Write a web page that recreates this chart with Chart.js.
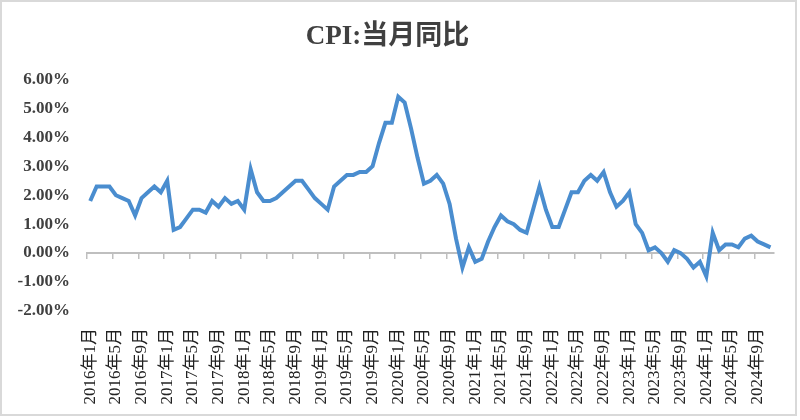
<!DOCTYPE html>
<html>
<head>
    <title>CPI:当月同比</title>
    <script src="https://cdn.jsdelivr.net/npm/chart.js"></script>
    <style>
        html, body { margin: 0; padding: 0; background: #fff; }
        #wrap { position: relative; width: 800px; height: 420px; }
        #frame { position: absolute; left: 0; top: 0; width: 797px; height: 416px;
                 box-sizing: border-box; border: 2px solid #d9d9d9; pointer-events: none; }
    </style>
</head>
<body>
    <div id="wrap">
        <canvas id="cpiChart" width="800" height="420"></canvas>
        <div id="frame"></div>
    </div>

    <script>
        // CPI year-on-year, %, monthly from 2016-01 to 2024-11
        const years = [2016, 2017, 2018, 2019, 2020, 2021, 2022, 2023, 2024];
        const cpi2016 = [1.8, 2.3, 2.3, 2.3, 2.0, 1.9, 1.8, 1.3, 1.9, 2.1, 2.3, 2.1];
        const cpi2017 = [2.5, 0.8, 0.9, 1.2, 1.5, 1.5, 1.4, 1.8, 1.6, 1.9, 1.7, 1.8];
        const cpi2018 = [1.5, 2.9, 2.1, 1.8, 1.8, 1.9, 2.1, 2.3, 2.5, 2.5, 2.2, 1.9];
        const cpi2019 = [1.7, 1.5, 2.3, 2.5, 2.7, 2.7, 2.8, 2.8, 3.0, 3.8, 4.5, 4.5];
        const cpi2020 = [5.4, 5.2, 4.3, 3.3, 2.4, 2.5, 2.7, 2.4, 1.7, 0.5, -0.5, 0.2];
        const cpi2021 = [-0.3, -0.2, 0.4, 0.9, 1.3, 1.1, 1.0, 0.8, 0.7, 1.5, 2.3, 1.5];
        const cpi2022 = [0.9, 0.9, 1.5, 2.1, 2.1, 2.5, 2.7, 2.5, 2.8, 2.1, 1.6, 1.8];
        const cpi2023 = [2.1, 1.0, 0.7, 0.1, 0.2, 0.0, -0.3, 0.1, 0.0, -0.2, -0.5, -0.3];
        const cpi2024 = [-0.8, 0.7, 0.1, 0.3, 0.3, 0.2, 0.5, 0.6, 0.4, 0.3, 0.2];
        const yTicks = [-2, -1, 0, 1, 2, 3, 4, 5, 6];

        const yearly = [cpi2016, cpi2017, cpi2018, cpi2019, cpi2020, cpi2021, cpi2022, cpi2023, cpi2024];
        const labels = [];
        const values = [];
        yearly.forEach((arr, yi) => {
            arr.forEach((v, mi) => {
                labels.push(`${years[yi]}年${mi + 1}月`);
                values.push(v);
            });
        });

        const serif = '"Liberation Serif", "Noto Sans CJK SC", serif';
        const axisGray = '#bfbfbf';

        const ctx = document.getElementById('cpiChart').getContext('2d');
        const cpiChart = new Chart(ctx, {
            type: 'line',
            data: {
                labels: labels,
                datasets: [{
                    label: 'CPI:当月同比',
                    data: values,
                    borderColor: '#4a8dcf',
                    borderWidth: 4,
                    pointRadius: 0,
                    tension: 0,
                    fill: false,
                    xAxisID: 'x',
                    yAxisID: 'y'
                }]
            },
            options: {
                responsive: false,
                animation: false,
                layout: { padding: { top: 5, right: 25, bottom: 0, left: 0 } },
                plugins: {
                    legend: { display: false },
                    tooltip: { enabled: false },
                    title: {
                        display: true,
                        text: 'CPI:当月同比',
                        color: '#404040',
                        font: { family: serif, size: 27, weight: 'bold' },
                        padding: { top: 16, bottom: 26 }
                    }
                },
                scales: {
                    x: {
                        type: 'category',
                        offset: true,
                        grid: { display: false },
                        border: { display: false },
                        afterFit: s => { s.height = 109; },
                        ticks: {
                            autoSkip: false,
                            minRotation: 90,
                            maxRotation: 90,
                            padding: 9,
                            color: '#222',
                            font: { family: serif, size: 17 },
                            callback: function (v, i) { return i % 4 === 0 ? this.getLabelForValue(v) : ''; }
                        }
                    },
                    x2: {
                        type: 'category',
                        axis: 'x',
                        position: { y: 0 },
                        offset: true,
                        ticks: { display: false },
                        grid: {
                            offset: true,
                            drawOnChartArea: false,
                            drawTicks: true,
                            tickLength: 5,
                            lineWidth: 1.5,
                            color: c => (c.index % 4 === 0 ? axisGray : 'rgba(0,0,0,0)')
                        },
                        border: { display: true, color: axisGray, width: 2 }
                    },
                    y: {
                        min: -2,
                        max: 6,
                        afterFit: s => { s.width = 87; },
                        afterBuildTicks: s => { s.ticks = yTicks.map(v => ({ value: v })); },
                        grid: { display: false, drawTicks: false },
                        border: { display: false },
                        ticks: {
                            padding: 17,
                            color: '#404040',
                            font: { family: serif, size: 17, weight: 'bold' },
                            callback: v => v.toFixed(2) + '%'
                        }
                    }
                }
            }
        });
    </script>
</body>
</html>
